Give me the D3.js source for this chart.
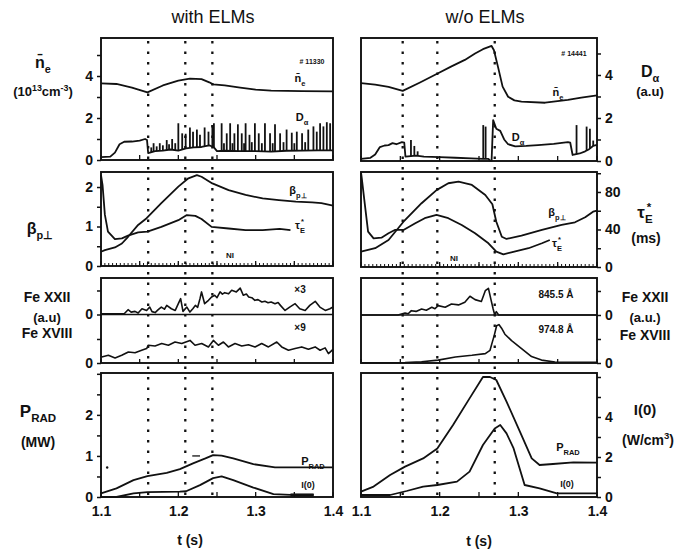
<!DOCTYPE html>
<html><head><meta charset="utf-8">
<script src="https://cdn.jsdelivr.net/npm/d3@7"></script>
<style>body{margin:0;background:#fff}svg{display:block}text{fill:#111;font-family:"Liberation Sans",Arial,sans-serif}</style>
</head><body>
<script>
// ---------------- DATA ----------------
const tTicksMajor = [1.1, 1.2, 1.3, 1.4];
const tTickLabels = ["1.1", "1.2", "1.3", "1.4"];
const dottedL = [1.161, 1.209, 1.244];
const dottedR = [1.153, 1.197, 1.270];

// Row 1 : line-averaged density (10^13 cm^-3) and D-alpha (a.u.)
const neL = [[1.1,3.65],[1.12,3.62],[1.14,3.45],[1.16,3.22],[1.18,3.55],[1.2,3.78],[1.215,3.88],[1.23,3.85],[1.24,3.7],[1.245,3.6],[1.26,3.55],[1.28,3.45],[1.3,3.35],[1.32,3.3],[1.36,3.28],[1.4,3.27]];
const daL_base = [[1.1,0.14],[1.112,0.16],[1.118,0.35],[1.124,0.75],[1.13,0.87],[1.14,0.88],[1.15,0.92],[1.157,1.0],[1.1595,0.95],[1.161,0.33],[1.17,0.42],[1.18,0.45],[1.19,0.5],[1.2,0.45],[1.21,0.55],[1.22,0.6],[1.23,0.62],[1.24,0.7],[1.246,0.6],[1.25,0.42],[1.26,0.44],[1.28,0.42],[1.3,0.42],[1.32,0.4],[1.34,0.44],[1.36,0.45],[1.38,0.46],[1.4,0.46]];
const daL_spikes = [[1.165,0.6],[1.168,0.8],[1.172,0.65],[1.176,0.8],[1.18,0.7],[1.185,0.95],[1.188,0.75],[1.192,1.0],[1.196,0.8],[1.200,1.75],[1.205,1.27],[1.2095,1.25],[1.215,1.55],[1.219,1.35],[1.224,1.45],[1.228,1.2],[1.234,1.55],[1.239,1.35],[1.244,1.65],[1.246,1.75],[1.256,1.75],[1.259,0.8],[1.2626,1.27],[1.267,1.75],[1.27,0.8],[1.2725,1.27],[1.277,1.7],[1.282,1.27],[1.285,0.8],[1.287,1.75],[1.292,1.2],[1.295,0.85],[1.299,1.75],[1.304,1.27],[1.308,0.8],[1.312,1.75],[1.3186,1.27],[1.322,0.8],[1.325,1.7],[1.3316,1.27],[1.336,0.85],[1.340,1.45],[1.3467,1.3],[1.35,0.8],[1.3532,1.35],[1.36,1.27],[1.364,0.85],[1.368,1.45],[1.3747,1.6],[1.379,1.35],[1.3833,1.75],[1.3876,1.6],[1.392,1.8],[1.3963,1.75]];
const neR = [[1.1,3.62],[1.118,3.55],[1.135,3.45],[1.153,3.26],[1.175,3.65],[1.198,4.08],[1.215,4.4],[1.232,4.7],[1.245,5.0],[1.255,5.2],[1.266,5.35],[1.269,5.15],[1.274,4.4],[1.28,3.46],[1.287,2.99],[1.295,2.82],[1.304,2.76],[1.334,2.71],[1.363,2.84],[1.38,2.95],[1.4,3.05]];
const daR_base = [[1.1,0.1],[1.112,0.15],[1.118,0.3],[1.124,0.65],[1.13,0.72],[1.135,0.74],[1.14,0.83],[1.145,0.78],[1.152,0.88],[1.155,0.85],[1.1565,0.2],[1.17,0.25],[1.18,0.2],[1.2,0.18],[1.22,0.15],[1.24,0.12],[1.255,0.1],[1.262,0.1],[1.264,0.02],[1.266,0.02],[1.268,1.9],[1.272,1.5],[1.277,1.4],[1.282,1.0],[1.287,0.78],[1.296,0.68],[1.31,0.7],[1.325,0.74],[1.345,0.8],[1.363,0.88],[1.366,0.85],[1.369,0.28],[1.378,0.35],[1.385,0.45],[1.39,0.55],[1.395,0.7],[1.4,0.75]];
const daR_spikes = [[1.1635,0.98],[1.1678,0.7],[1.172,0.45],[1.2554,1.67],[1.2584,1.6],[1.374,1.67],[1.3868,1.6],[1.391,1.5],[1.3952,0.95]];

// Row 2 : beta_p-perp and tau_E*
const betaL = [[1.1,0.36],[1.105,0.40],[1.118,0.47],[1.127,0.57],[1.135,0.74],[1.148,1.04],[1.159,1.21],[1.178,1.59],[1.2,2.01],[1.213,2.22],[1.224,2.30],[1.23,2.26],[1.244,2.09],[1.265,1.92],[1.287,1.8],[1.309,1.71],[1.33,1.67],[1.352,1.63],[1.373,1.61],[1.385,1.59],[1.4,1.53]];
const tauL = [[1.1,2.3],[1.102,2.05],[1.105,1.3],[1.109,0.87],[1.118,0.68],[1.127,0.70],[1.135,0.77],[1.148,0.85],[1.16,0.87],[1.178,0.99],[1.2,1.16],[1.211,1.29],[1.222,1.27],[1.23,1.19],[1.243,0.99],[1.265,0.95],[1.287,0.91],[1.309,0.91],[1.331,0.94],[1.345,0.91]];
const betaR = [[1.1,16.3],[1.118,20],[1.135,28.8],[1.154,48.3],[1.177,68],[1.196,82],[1.211,89.3],[1.224,91],[1.241,87.5],[1.258,76.8],[1.267,66.9],[1.272,48.3],[1.279,32.3],[1.285,29.9],[1.304,33.4],[1.33,39.5],[1.355,44.8],[1.372,47.7],[1.385,53],[1.395,59],[1.4,60]];
const tauR = [[1.1,101],[1.101,94.6],[1.105,66],[1.109,37.7],[1.116,30.6],[1.126,31.3],[1.135,36],[1.143,39.5],[1.154,39.5],[1.169,46.6],[1.181,52],[1.196,55.5],[1.211,52],[1.228,44.8],[1.245,36],[1.262,25.3],[1.272,16.3],[1.281,13.5],[1.291,15.7],[1.313,20],[1.33,25.3],[1.34,28.8]];

// Row 3 : Fe XXII / Fe XVIII line intensities (a.u.)
const fe22L = [[1.100,0.03],[1.130,0.03],[1.135,0.2],[1.139,0.1],[1.144,0.13],[1.148,0.06],[1.153,0.24],[1.159,0.17],[1.163,0.31],[1.166,0.12],[1.170,0.08],[1.174,0.2],[1.178,0.31],[1.182,0.22],[1.185,0.38],[1.191,0.24],[1.196,0.17],[1.200,0.45],[1.203,0.66],[1.206,0.13],[1.211,0.31],[1.215,0.10],[1.219,0.25],[1.222,0.38],[1.225,0.3],[1.228,0.66],[1.230,0.94],[1.234,0.45],[1.239,0.59],[1.243,0.73],[1.247,0.80],[1.250,0.7],[1.254,0.94],[1.257,0.85],[1.260,0.91],[1.265,0.86],[1.269,1.01],[1.275,0.94],[1.280,1.10],[1.284,0.80],[1.288,0.85],[1.291,0.73],[1.295,0.7],[1.299,0.59],[1.303,0.62],[1.308,0.52],[1.312,0.55],[1.316,0.49],[1.32,0.52],[1.325,0.45],[1.329,0.5],[1.332,0.38],[1.338,0.17],[1.344,0.31],[1.351,0.45],[1.357,0.24],[1.364,0.17],[1.370,0.38],[1.377,0.55],[1.383,0.31],[1.390,0.17],[1.396,0.24],[1.400,0.31]];
const fe18L = [[1.1009,0.25],[1.1095,0.32],[1.1182,0.21],[1.1268,0.32],[1.1354,0.46],[1.144,0.43],[1.1526,0.53],[1.159,0.60],[1.1612,0.74],[1.1699,0.71],[1.1785,0.81],[1.1871,0.74],[1.1957,0.875],[1.2044,0.81],[1.2151,0.94],[1.2216,0.74],[1.2302,0.81],[1.2389,0.67],[1.2453,0.94],[1.2518,0.74],[1.2583,0.875],[1.2647,0.67],[1.2733,0.81],[1.282,0.71],[1.2906,0.76],[1.2992,0.67],[1.3078,0.81],[1.3165,0.67],[1.3273,0.875],[1.3337,0.67],[1.3424,0.53],[1.351,0.60],[1.3596,0.67],[1.3682,0.57],[1.3769,0.67],[1.3833,0.53],[1.3898,0.63],[1.3941,0.39],[1.4,0.57]];
const fe22R = [[1.1,0],[1.147,0],[1.156,0.085],[1.16,0.05],[1.164,0.18],[1.17,0.15],[1.177,0.25],[1.183,0.2],[1.19,0.32],[1.194,0.26],[1.198,0.39],[1.207,0.32],[1.215,0.46],[1.224,0.42],[1.232,0.53],[1.2385,0.78],[1.245,0.64],[1.253,0.56],[1.258,1.01],[1.262,1.11],[1.265,0.67],[1.268,0.25],[1.27,0],[1.272,0.14],[1.275,0],[1.4,0]];
const fe18R = [[1.1,0],[1.156,0.02],[1.177,0.05],[1.198,0.12],[1.22,0.25],[1.241,0.32],[1.258,0.39],[1.264,0.53],[1.267,0.88],[1.2694,1.15],[1.2724,1.55],[1.2753,1.6],[1.2787,1.45],[1.2829,1.2],[1.2914,0.93],[1.3041,0.6],[1.3168,0.27],[1.3295,0.12],[1.3465,0.04],[1.4,0.03]];

// Row 4 : radiated power and central emissivity
const pradL = [[1.1,0.09],[1.12,0.21],[1.142,0.41],[1.16,0.51],[1.185,0.59],[1.202,0.68],[1.219,0.82],[1.235,0.94],[1.245,1.02],[1.256,1.01],[1.271,0.94],[1.297,0.80],[1.325,0.72],[1.4,0.72]];
const i0L = [[1.1,0.0],[1.12,0.0],[1.142,0.09],[1.16,0.12],[1.202,0.13],[1.21,0.14],[1.228,0.29],[1.245,0.46],[1.256,0.5],[1.271,0.41],[1.297,0.23],[1.323,0.07],[1.345,0.05],[1.375,0.05]];
const pradR = [[1.1,0.27],[1.116,0.52],[1.137,1.1],[1.156,1.52],[1.179,1.93],[1.197,2.43],[1.217,3.6],[1.238,4.93],[1.255,6.0],[1.264,6.0],[1.272,5.85],[1.285,4.77],[1.302,3.27],[1.317,1.93],[1.327,1.6],[1.344,1.65],[1.37,1.73],[1.4,1.72]];
const i0R = [[1.1,0.1],[1.137,0.1],[1.158,0.3],[1.179,0.52],[1.197,0.6],[1.222,0.77],[1.238,1.27],[1.255,2.6],[1.27,3.43],[1.277,3.6],[1.285,3.18],[1.294,2.43],[1.308,0.6],[1.327,0.43],[1.349,0.18],[1.4,0.18]];

// tick values / labels
const r1Ticks = [0,1,2,3,4,5], r1Labels = [0,2,4];
const r2LTicks = [0,0.5,1,1.5,2], r2LLabels = [0,1,2];
const r2RTicks = [0,20,40,60,80,100], r2RLabels = [0,40,80];
const r4LTicks = [0,0.5,1,1.5,2,2.5,3], r4LLabels = [0,1,2];
const r4RTicks = [0,1,2,3,4,5,6], r4RLabels = [0,2,4];

// ---------------- DRAWING ----------------
const W = 679, H = 553;
const svg = d3.select("body").append("svg").attr("width", W).attr("height", H);
const colL = {x0:101, x1:333}, colR = {x0:361, x1:597};
const xL = d3.scaleLinear().domain([1.1,1.4]).range([colL.x0, colL.x1]);
const xR = d3.scaleLinear().domain([1.1,1.4]).range([colR.x0, colR.x1]);
const INK = "#111";
const FONT = "'Liberation Sans', Arial, sans-serif";

function yScale(d0, d1, top, bottom){ return d3.scaleLinear().domain([d0,d1]).range([bottom, top]); }

const yRow1L = yScale(0, 5.81, 38, 160), yRow1R = yScale(0, 5.72, 38, 161);
const yRow2L = yScale(0, 2.38, 172, 266), yRow2R = yScale(0, 101.3, 172, 267);
const yRow3Lu = yScale(0, 1.52, 278, 314.5), yRow3Ll = yScale(0, 2.02, 314.5, 363);
const yRow3Ru = yScale(0, 1.54, 278, 315), yRow3Rl = yScale(0, 2.0, 315, 363);
const yRow4L = yScale(0, 3.02, 373, 497), yRow4R = yScale(0, 6.2, 373, 497);

function frame(x, y){
  const [x0,x1] = x.range(), [y1,y0] = y.range();
  svg.append("rect").attr("x",x0).attr("y",y0).attr("width",x1-x0).attr("height",y1-y0)
    .attr("fill","none").attr("stroke",INK).attr("stroke-width",1.9);
}
function curve(x, y, data, w){
  svg.append("path").datum(data).attr("fill","none").attr("stroke",INK)
    .attr("stroke-width", w||1.8).attr("stroke-linejoin","round")
    .attr("d", d3.line().x(d=>x(d[0])).y(d=>y(d[1])));
}
function spikes(x, y, base, sp){
  const bis = d3.bisector(d=>d[0]).left;
  const baseAt = t => { const i = Math.max(1, Math.min(base.length-1, bis(base, t)));
    const a = base[i-1], b = base[i]; return a[1] + (b[1]-a[1])*(t-a[0])/(b[0]-a[0]); };
  svg.append("g").selectAll("line").data(sp).join("line")
    .attr("x1", d=>x(d[0])).attr("x2", d=>x(d[0]))
    .attr("y1", d=>y(baseAt(d[0]))).attr("y2", d=>y(d[1]))
    .attr("stroke",INK).attr("stroke-width",1.8);
}
function bottomTicks(x, yPix, step, len, w){
  const vals = d3.range(1.1, 1.4001, step);
  svg.append("g").selectAll("line").data(vals).join("line")
    .attr("x1", d=>x(d)).attr("x2", d=>x(d)).attr("y1", yPix).attr("y2", yPix-len)
    .attr("stroke",INK).attr("stroke-width", w||1.3);
}
function yAxis(x, y, side, ticks, labels, size){
  const xp = side==="left" ? x.range()[0] : x.range()[1];
  const ax = (side==="left" ? d3.axisLeft(y) : d3.axisRight(y)).tickValues(ticks)
    .tickSize(4).tickPadding(4).tickFormat(d => labels.includes(d) ? String(d) : "");
  const g = svg.append("g").attr("transform", `translate(${xp},0)`).call(ax);
  g.select(".domain").remove();
  g.selectAll(".tick line").attr("stroke",INK).attr("stroke-width",1.5);
  g.selectAll(".tick text").attr("font-family",FONT).attr("font-weight","bold")
    .attr("font-size", size||14).attr("fill",INK);
}
function rich(x, y, parts, size, anchor, weight){
  const t = svg.append("text").attr("x",x).attr("y",y).attr("font-size",size)
    .attr("text-anchor",anchor||"middle").attr("font-weight",weight||"bold");
  let cur = 0;
  parts.forEach(p => {
    const typ = typeof p === "string" ? {t:p} : p;
    const shift = typ.sub ? size*0.32 : typ.sup ? -size*0.42 : 0;
    const ts = t.append("tspan").attr("dy", shift - cur)
      .attr("font-size", (typ.sub||typ.sup) ? size*0.68 : size).text(typ.t);
    if (typ.dx) ts.attr("dx", typ.dx);
    cur = shift;
  });
  return t;
}
function dotted(x, times, yTop, yBot){
  svg.append("g").selectAll("line").data(times).join("line")
    .attr("x1", d=>x(d)).attr("x2", d=>x(d)).attr("y1", yTop).attr("y2", yBot)
    .attr("stroke",INK).attr("stroke-width",2.3).attr("stroke-dasharray","2.5,8");
}

// ---- frames ----
[[xL,yRow1L],[xR,yRow1R],[xL,yRow2L],[xR,yRow2R],[xL,yRow4L],[xR,yRow4R]].forEach(p=>frame(p[0],p[1]));
svg.append("rect").attr("x",colL.x0).attr("y",278).attr("width",colL.x1-colL.x0).attr("height",85)
  .attr("fill","none").attr("stroke",INK).attr("stroke-width",1.9);
svg.append("rect").attr("x",colR.x0).attr("y",278).attr("width",colR.x1-colR.x0).attr("height",85)
  .attr("fill","none").attr("stroke",INK).attr("stroke-width",1.9);
svg.append("line").attr("x1",colL.x0).attr("x2",colL.x1).attr("y1",yRow3Lu(0)).attr("y2",yRow3Lu(0)).attr("stroke",INK).attr("stroke-width",1.7);
svg.append("line").attr("x1",colR.x0).attr("x2",colR.x1).attr("y1",yRow3Ru(0)).attr("y2",yRow3Ru(0)).attr("stroke",INK).attr("stroke-width",1.7);

// ---- bottom ticks ----
[[xL,160],[xR,161]].forEach(p=>bottomTicks(p[0],p[1],0.05,5));
[[xL,266],[xR,267]].forEach(p=>{ bottomTicks(p[0],p[1],0.005,3,1); bottomTicks(p[0],p[1],0.05,5); });
[[xL,363],[xR,363]].forEach(p=>bottomTicks(p[0],p[1],0.05,4));
[[xL,497],[xR,497]].forEach(p=>bottomTicks(p[0],p[1],0.05,5));
// labelled time axis
[xL, xR].forEach(x=>{
  const g = svg.append("g").attr("transform","translate(0,497)")
    .call(d3.axisBottom(x).tickValues(tTicksMajor).tickSize(0).tickPadding(9)
      .tickFormat((d,i)=>tTickLabels[i]));
  g.select(".domain").remove();
  g.selectAll(".tick text").attr("font-family",FONT).attr("font-weight","bold").attr("font-size",14).attr("fill",INK);
});

// ---- y axes ----
yAxis(xL, yRow1L, "left", r1Ticks, r1Labels);
yAxis(xR, yRow1R, "right", r1Ticks, r1Labels);
yAxis(xL, yRow2L, "left", r2LTicks, r2LLabels);
yAxis(xR, yRow2R, "right", r2RTicks, r2RLabels);
yAxis(xL, yRow3Lu, "left", [0,1], [0]);
yAxis(xL, yRow3Ll, "left", [0,1], [0]);
yAxis(xR, yRow3Ru, "right", [0,1], [0]);
yAxis(xR, yRow3Rl, "right", [0,1], [0]);
yAxis(xL, yRow4L, "left", r4LTicks, r4LLabels);
yAxis(xR, yRow4R, "right", r4RTicks, r4RLabels);

// ---- dotted time markers ----
dotted(xL, dottedL, 41, 497);
dotted(xR, dottedR, 41, 497);

// ---- curves ----
curve(xL, yRow1L, neL); curve(xL, yRow1L, daL_base); spikes(xL, yRow1L, daL_base, daL_spikes);
curve(xR, yRow1R, neR); curve(xR, yRow1R, daR_base); spikes(xR, yRow1R, daR_base, daR_spikes);
curve(xL, yRow2L, betaL); curve(xL, yRow2L, tauL);
curve(xR, yRow2R, betaR); curve(xR, yRow2R, tauR);
curve(xL, yRow3Lu, fe22L, 1.6); curve(xL, yRow3Ll, fe18L, 1.6);
curve(xR, yRow3Ru, fe22R, 1.6); curve(xR, yRow3Rl, fe18R, 1.6);
curve(xL, yRow4L, pradL); curve(xL, yRow4L, i0L); 
curve(xL, yRow4L, [[1.345,0.05],[1.375,0.05]], 3);
curve(xR, yRow4R, pradR); curve(xR, yRow4R, i0R);

// small marks in lower left panel
svg.append("line").attr("x1",xL(1.218)).attr("x2",xL(1.228)).attr("y1",yRow4L(1.0)).attr("y2",yRow4L(1.0)).attr("stroke",INK).attr("stroke-width",1.3);
svg.append("circle").attr("cx",xL(1.108)).attr("cy",yRow4L(0.72)).attr("r",1.2).attr("fill",INK);

// ---- titles ----
svg.append("text").attr("x",213).attr("y",23).attr("text-anchor","middle").attr("font-size",18).text("with ELMs");
svg.append("text").attr("x",485).attr("y",23).attr("text-anchor","middle").attr("font-size",18).text("w/o ELMs");
rich(190, 545, ["t (s)"], 14);
rich(479, 546, ["t (s)"], 14);

// ---- left side labels ----
rich(43, 68, ["n\u0304", {t:"e", sub:true}], 16);
rich(43, 96, ["(10", {t:"13", sup:true}, "cm", {t:"-3", sup:true}, ")"], 13);
rich(40, 234, ["\u03b2", {t:"p\u22a5", sub:true}], 16);
rich(47, 302, ["Fe  XXII"], 14);
rich(47, 322, ["(a.u)"], 13);
rich(47, 338, ["Fe  XVIII"], 14);
rich(38, 417, ["P", {t:"RAD", sub:true}], 17);
rich(38, 447, ["(MW)"], 14);

// ---- right side labels ----
rich(650, 77, ["D", {t:"\u03b1", sub:true}], 16);
rich(650, 96, ["(a.u)"], 13);
rich(645, 218, ["\u03c4", {t:"E", sub:true}, {t:"*", sup:true, dx:-6}], 17);
rich(646, 243, ["(ms)"], 14);
rich(645, 302, ["Fe  XXII"], 14);
rich(645, 322, ["(a.u.)"], 13);
rich(645, 340, ["Fe  XVIII"], 14);
rich(645, 415, ["I(0)"], 15);
rich(648, 445, ["(W/cm", {t:"3", sup:true}, ")"], 14);

// ---- in-panel labels ----
rich(312, 64, ["# 11330"], 7);
rich(300, 82, ["n\u0304", {t:"e", sub:true}], 11);
rich(302, 121, ["D", {t:"\u03b1", sub:true}], 11);
rich(298, 194, ["\u03b2", {t:"p\u22a5", sub:true}], 11);
rich(300, 229, ["\u03c4", {t:"E", sub:true}, {t:"*", sup:true, dx:-4}], 11);
rich(230, 258, ["NI"], 8);
rich(300, 293, ["\u00d73"], 10);
rich(300, 331, ["\u00d79"], 10);
rich(313, 465, ["P", {t:"RAD", sub:true}], 11);
rich(308, 488, ["I(0)"], 9);

rich(574, 56, ["# 14441"], 7);
rich(558, 96, ["n\u0304", {t:"e", sub:true}], 11);
rich(518, 141, ["D", {t:"\u03b1", sub:true}], 11);
rich(557, 216, ["\u03b2", {t:"p\u22a5", sub:true}], 11);
rich(557, 247, ["\u03c4", {t:"E", sub:true}, {t:"*", sup:true, dx:-4}], 11);
rich(454, 261, ["NI"], 8);
rich(556, 298, ["845.5 \u00c5"], 10);
rich(556, 333, ["974.8 \u00c5"], 10);
rich(568, 451, ["P", {t:"RAD", sub:true}], 11);
rich(567, 487, ["I(0)"], 9);
</script>
</body></html>
